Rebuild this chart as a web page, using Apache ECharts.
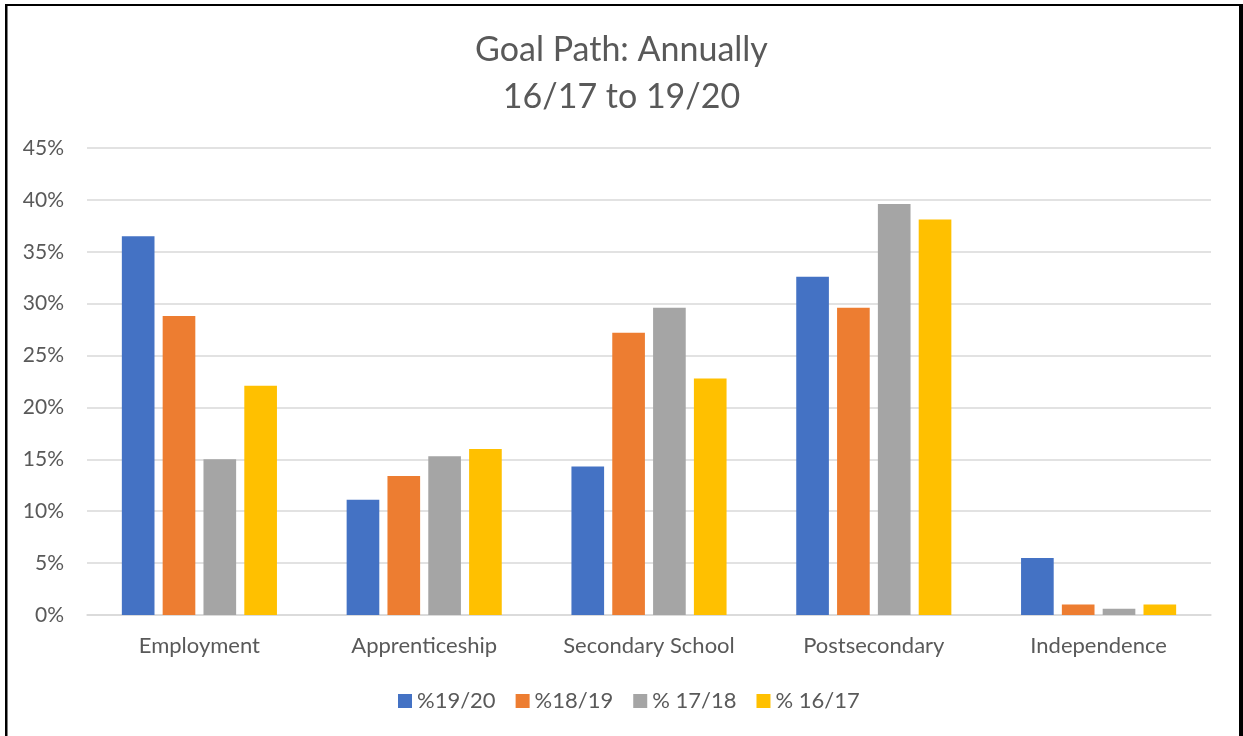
<!DOCTYPE html>
<html>
<head>
<meta charset="utf-8">
<script src="https://cdn.jsdelivr.net/npm/echarts@6/dist/echarts.min.js"></script>
<style>
html,body{margin:0;padding:0;background:#fff;}
#chart{width:1243px;height:736px;}
</style>
</head>
<body>
<div id="chart"></div>
<script>
var categories = ['Employment', 'Apprenticeship', 'Secondary School', 'Postsecondary', 'Independence'];
var seriesNames = ['%19/20', '%18/19', '% 17/18', '% 16/17'];
var values1920 = [36.5, 11.1, 14.3, 32.6, 5.5];
var values1819 = [28.8, 13.4, 27.2, 29.6, 1.0];
var values1718 = [15.0, 15.3, 29.6, 39.6, 0.6];
var values1617 = [22.1, 16.0, 22.8, 38.1, 1.0];
var yTicks = [0, 5, 10, 15, 20, 25, 30, 35, 40, 45];
var colors = ['#4472C4', '#ED7D31', '#A5A5A5', '#FFC000'];

var FONT = 'Lato, "Open Sans", sans-serif';
var TXT = '#595959';
var allValues = [values1920, values1819, values1718, values1617];

var chart = echarts.init(document.getElementById('chart'), null, {renderer: 'canvas'});
chart.setOption({
  animation: false,
  backgroundColor: '#ffffff',
  color: colors,
  title: {
    text: 'Goal Path: Annually\n16/17 to 19/20',
    left: 'center',
    top: 22,
    textStyle: {color: TXT, fontFamily: FONT, fontWeight: 'normal', fontSize: 34, lineHeight: 47}
  },
  legend: {
    data: seriesNames,
    bottom: 19,
    left: 393,
    itemWidth: 14,
    itemHeight: 14,
    itemGap: 20,
    icon: 'rect',
    textStyle: {color: TXT, fontFamily: FONT, fontSize: 22}
  },
  grid: {left: 87, right: 32, top: 148, bottom: 121, containLabel: false},
  xAxis: {
    type: 'category',
    data: categories,
    axisTick: {show: false},
    axisLine: {show: true, lineStyle: {color: '#d9d9d9', width: 1.5}},
    axisLabel: {color: TXT, fontFamily: FONT, fontSize: 22, margin: 20}
  },
  yAxis: {
    type: 'value',
    min: yTicks[0],
    max: yTicks[yTicks.length - 1],
    interval: 5,
    axisLine: {show: false},
    axisTick: {show: false},
    splitLine: {lineStyle: {color: '#d9d9d9', width: 1.5}},
    axisLabel: {color: TXT, fontFamily: FONT, fontSize: 21, margin: 23, formatter: '{value}%'}
  },
  series: seriesNames.map(function (n, i) {
    return {
      name: n,
      type: 'bar',
      data: allValues[i],
      barGap: '25%',
      barCategoryGap: '31%',
      itemStyle: {color: colors[i]}
    };
  }),
  graphic: [
    {type: 'rect', shape: {x: 5, y: 4, width: 2.5, height: 732}, style: {fill: '#000'}, silent: true},
    {type: 'rect', shape: {x: 5, y: 4, width: 1234, height: 2}, style: {fill: '#000'}, silent: true},
    {type: 'rect', shape: {x: 1239, y: 4, width: 4, height: 732}, style: {fill: '#000'}, silent: true}
  ]
});
</script>
</body>
</html>
